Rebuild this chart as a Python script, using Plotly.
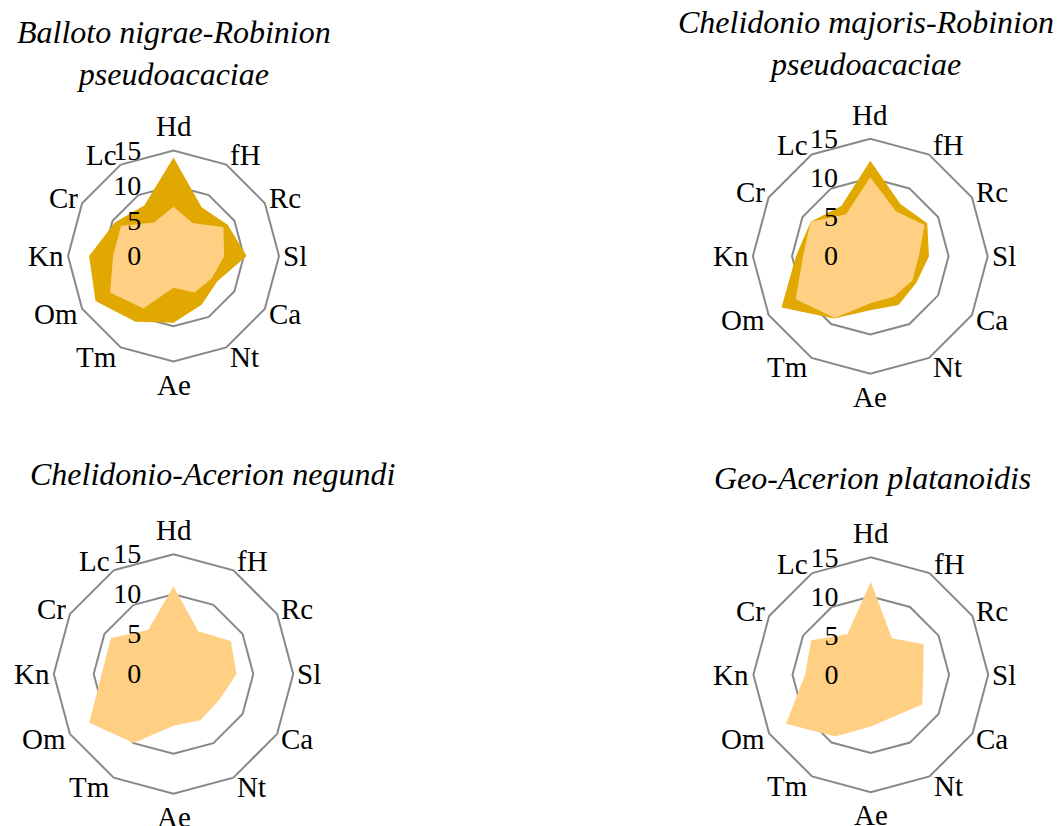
import math
import plotly.graph_objects as go

# Ecological indicator axes (clockwise from the top)
indicators = ["Hd", "fH", "Rc", "Sl", "Ca", "Nt", "Ae", "Tm", "Om", "Kn", "Cr", "Lc"]
radial_ticks = [0, 5, 10, 15]

# Balloto nigrae-Robinion pseudoacaciae
balloto_dark = [14.0, 8.0, 8.9, 10.4, 7.2, 8.0, 9.5, 10.8, 12.8, 12.0, 9.6, 8.3]
balloto_light = [7.0, 5.4, 8.2, 7.2, 6.3, 6.0, 4.5, 8.6, 10.4, 8.6, 8.6, 5.5]

# Chelidonio majoris-Robinion pseudoacaciae
chel_maj_dark = [12.2, 7.7, 8.4, 7.5, 6.8, 7.2, 6.9, 9.2, 13.1, 9.5, 8.8, 7.4]
chel_maj_light = [10.1, 6.6, 8.0, 6.2, 6.2, 6.0, 6.0, 9.1, 11.0, 8.6, 8.8, 6.2]

# Chelidonio-Acerion negundi
chel_acer_light = [11.0, 6.2, 8.3, 7.9, 6.6, 6.7, 6.5, 10.0, 12.2, 9.0, 9.05, 6.35]

# Geo-Acerion platanoidis
geo_acer_light = [11.9, 5.4, 7.8, 6.7, 7.6, 6.1, 6.6, 9.1, 12.5, 8.4, 8.8, 6.0]

DARK = "#E0A800"
LIGHT = "#FFD083"
GRID = "#888888"
FONT = "Liberation Serif"
W, H = 1058, 826


def closed(values):
    return list(values) + [values[0]], indicators + [indicators[0]]


def area(values, color, subplot):
    r, theta = closed(values)
    return go.Scatterpolar(
        r=r, theta=theta, mode="lines", fill="toself",
        fillcolor=color, line=dict(width=0, color=color),
        subplot=subplot, showlegend=False, hoverinfo="skip",
    )


def polar_layout(cx, cy, radius):
    return dict(
        domain=dict(
            x=[(cx - radius) / W, (cx + radius) / W],
            y=[(H - cy - radius) / H, (H - cy + radius) / H],
        ),
        gridshape="linear",
        bgcolor="rgba(0,0,0,0)",
        radialaxis=dict(
            range=[0, 15], tickvals=radial_ticks, angle=90, tickangle=90,
            side="counterclockwise", showline=False,
            ticks="outside", ticklen=22, tickcolor="rgba(0,0,0,0)",
            showgrid=True, gridcolor=GRID, gridwidth=2,
            tickfont=dict(family=FONT, size=28, color="black"),
            layer="above traces",
        ),
        angularaxis=dict(
            direction="clockwise", rotation=90, categoryarray=indicators,
            categoryorder="array", showgrid=False, showline=True,
            linecolor=GRID, linewidth=2, ticks="", showticklabels=False,
        ),
    )


def category_labels(cx, cy, radius):
    """Category names placed just outside each vertex of the outer ring."""
    out = []
    n = len(indicators)
    for i, name in enumerate(indicators):
        ang = math.radians(90 - i * 360 / n)
        vx = cx + radius * math.cos(ang)
        vy = cy - radius * math.sin(ang)
        c, s = math.cos(ang), math.sin(ang)
        if abs(c) < 1e-6:
            xanchor, xshift = "center", 0
            yshift = 24 if s > 0 else -23
        else:
            xanchor = "left" if c > 0 else "right"
            xshift = 2 if c > 0 else -2
            yshift = 11 * s
        out.append(dict(
            text=name, x=vx / W, y=1 - vy / H, xref="paper", yref="paper",
            xanchor=xanchor, yanchor="middle", xshift=xshift, yshift=yshift,
            showarrow=False, font=dict(family=FONT, size=29, color="black"),
        ))
    return out


fig = go.Figure()
fig.add_trace(area(balloto_dark, DARK, "polar"))
fig.add_trace(area(balloto_light, LIGHT, "polar"))
fig.add_trace(area(chel_maj_dark, DARK, "polar2"))
fig.add_trace(area(chel_maj_light, LIGHT, "polar2"))
fig.add_trace(area(chel_acer_light, LIGHT, "polar3"))
fig.add_trace(area(geo_acer_light, LIGHT, "polar4"))

geometry = {
    "polar": (173.5, 256, 105.5),
    "polar2": (870.3, 256.2, 117.4),
    "polar3": (173.5, 674, 119.7),
    "polar4": (870.8, 674.8, 117.4),
}

fig.update_layout(
    width=W, height=H,
    margin=dict(l=0, r=0, t=0, b=0),
    paper_bgcolor="white", plot_bgcolor="white",
    showlegend=False,
    **{name: polar_layout(*g) for name, g in geometry.items()},
)

for g in geometry.values():
    for ann in category_labels(*g):
        fig.add_annotation(**ann)

titles = [
    ("Balloto nigrae-Robinion<br>pseudoacaciae", 174, 53),
    ("Chelidonio majoris-Robinion<br>pseudoacaciae", 866, 43),
    ("Chelidonio-Acerion negundi", 212, 474),
    ("Geo-Acerion platanoidis", 872, 478),
]
for text, x, y in titles:
    fig.add_annotation(
        text=f"<i>{text}</i>", x=x / W, y=1 - y / H, xref="paper", yref="paper",
        xanchor="center", yanchor="middle", showarrow=False,
        font=dict(family=FONT, size=32, color="black"),
    )

fig.write_html("out.html")
